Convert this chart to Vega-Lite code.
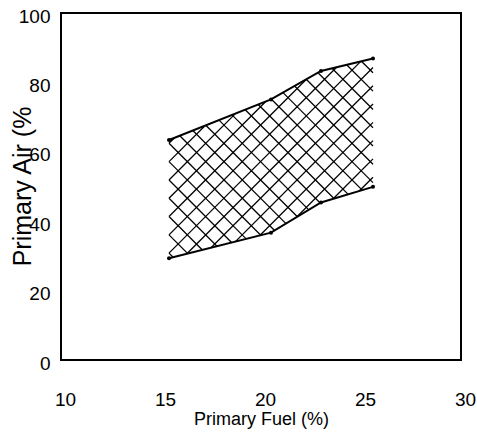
{
  "$schema": "https://vega.github.io/schema/vega-lite/v6.json",
  "width": 400,
  "height": 347,
  "autosize": {"type": "none"},
  "padding": {"left": 61, "top": 13, "right": 16, "bottom": 73},
  "background": "white",
  "config": {
    "view": {"stroke": "black", "strokeWidth": 2},
    "axis": {
      "grid": false, "ticks": false, "domain": false,
      "labelFont": "Liberation Sans", "labelFontSize": 19, "labelColor": "black",
      "labelFlush": false, "labelOverlap": false, "labelBound": false,
      "titleColor": "black", "titleFontWeight": "normal"
    }
  },
  "datasets": {
    "band": [
      {"fuel": 15.4, "lower": 29.3, "upper": 63.4},
      {"fuel": 20.5, "lower": 36.7, "upper": 75.1},
      {"fuel": 23.0, "lower": 45.4, "upper": 83.3},
      {"fuel": 25.6, "lower": 49.9, "upper": 86.9}
    ],
    "hatch": [
      {"x": 24.91, "y": 48.71, "x2": 25.6, "y2": 52.67},
      {"x": 23.61, "y": 46.45, "x2": 25.6, "y2": 57.95},
      {"x": 21.76, "y": 41.08, "x2": 25.6, "y2": 63.22},
      {"x": 19.94, "y": 35.89, "x2": 25.6, "y2": 68.49},
      {"x": 18.72, "y": 34.12, "x2": 25.6, "y2": 73.77},
      {"x": 17.5, "y": 32.34, "x2": 25.6, "y2": 79.04},
      {"x": 16.28, "y": 30.57, "x2": 25.6, "y2": 84.31},
      {"x": 15.4, "y": 30.8, "x2": 24.99, "y2": 86.05},
      {"x": 15.4, "y": 36.07, "x2": 23.78, "y2": 84.38},
      {"x": 15.4, "y": 41.35, "x2": 22.26, "y2": 80.86},
      {"x": 15.4, "y": 46.62, "x2": 20.24, "y2": 74.5},
      {"x": 15.4, "y": 51.89, "x2": 18.72, "y2": 71.01},
      {"x": 15.4, "y": 57.17, "x2": 17.2, "y2": 67.52},
      {"x": 15.4, "y": 62.44, "x2": 15.68, "y2": 64.04},
      {"x": 15.4, "y": 30.8, "x2": 15.61, "y2": 29.6},
      {"x": 15.4, "y": 36.07, "x2": 16.34, "y2": 30.66},
      {"x": 15.4, "y": 41.35, "x2": 17.07, "y2": 31.72},
      {"x": 15.4, "y": 46.62, "x2": 17.8, "y2": 32.78},
      {"x": 15.4, "y": 51.89, "x2": 18.53, "y2": 33.85},
      {"x": 15.4, "y": 57.17, "x2": 19.26, "y2": 34.91},
      {"x": 15.4, "y": 62.44, "x2": 19.99, "y2": 35.97},
      {"x": 15.94, "y": 64.63, "x2": 20.68, "y2": 37.31},
      {"x": 16.59, "y": 66.13, "x2": 21.25, "y2": 39.29},
      {"x": 17.24, "y": 67.63, "x2": 21.82, "y2": 41.28},
      {"x": 17.9, "y": 69.13, "x2": 22.39, "y2": 43.27},
      {"x": 18.55, "y": 70.63, "x2": 22.96, "y2": 45.25},
      {"x": 19.21, "y": 72.14, "x2": 23.65, "y2": 46.52},
      {"x": 19.86, "y": 73.64, "x2": 24.36, "y2": 47.74},
      {"x": 20.52, "y": 75.15, "x2": 25.06, "y2": 48.96},
      {"x": 21.1, "y": 77.06, "x2": 25.6, "y2": 51.12},
      {"x": 21.68, "y": 78.97, "x2": 25.6, "y2": 56.39},
      {"x": 22.26, "y": 80.89, "x2": 25.6, "y2": 61.66},
      {"x": 22.85, "y": 82.8, "x2": 25.6, "y2": 66.94},
      {"x": 23.55, "y": 84.06, "x2": 25.6, "y2": 72.21},
      {"x": 24.28, "y": 85.08, "x2": 25.6, "y2": 77.48},
      {"x": 25.02, "y": 86.1, "x2": 25.6, "y2": 82.76}
    ]
  },
  "encoding": {
    "x": {
      "type": "quantitative",
      "scale": {"domain": [10, 30], "nice": false, "zero": false},
      "axis": {
        "values": [10, 15, 20, 25, 30], "labelPadding": 30, "labelOffset": 4,
        "title": "Primary Fuel (%)", "titleFont": "Liberation Sans", "titleFontSize": 18,
        "titleBaseline": "alphabetic", "titleY": 64, "titleX": 200
      }
    },
    "y": {
      "type": "quantitative",
      "scale": {"domain": [0, 100], "nice": false},
      "axis": {
        "values": [0, 20, 40, 60, 80, 100], "labelPadding": 11, "labelOffset": 3,
        "title": "Primary Air (%", "titleFont": "Liberation Sans", "titleFontSize": 25,
        "titleAngle": 270, "titleBaseline": "alphabetic", "titleAlign": "center",
        "titleX": -31, "titleY": 173
      }
    }
  },
  "layer": [
    {
      "data": {"name": "hatch"},
      "mark": {"type": "rule", "color": "black", "strokeWidth": 1.3},
      "encoding": {
        "x": {"field": "x"},
        "y": {"field": "y"},
        "x2": {"field": "x2"},
        "y2": {"field": "y2"}
      }
    },
    {
      "data": {"name": "band"},
      "mark": {"type": "line", "color": "black", "strokeWidth": 2},
      "encoding": {"x": {"field": "fuel"}, "y": {"field": "upper"}}
    },
    {
      "data": {"name": "band"},
      "mark": {"type": "line", "color": "black", "strokeWidth": 2},
      "encoding": {"x": {"field": "fuel"}, "y": {"field": "lower"}}
    },
    {
      "data": {"name": "band"},
      "mark": {"type": "point", "filled": true, "color": "black", "size": 16, "opacity": 1},
      "encoding": {"x": {"field": "fuel"}, "y": {"field": "upper"}}
    },
    {
      "data": {"name": "band"},
      "mark": {"type": "point", "filled": true, "color": "black", "size": 16, "opacity": 1},
      "encoding": {"x": {"field": "fuel"}, "y": {"field": "lower"}}
    }
  ]
}
